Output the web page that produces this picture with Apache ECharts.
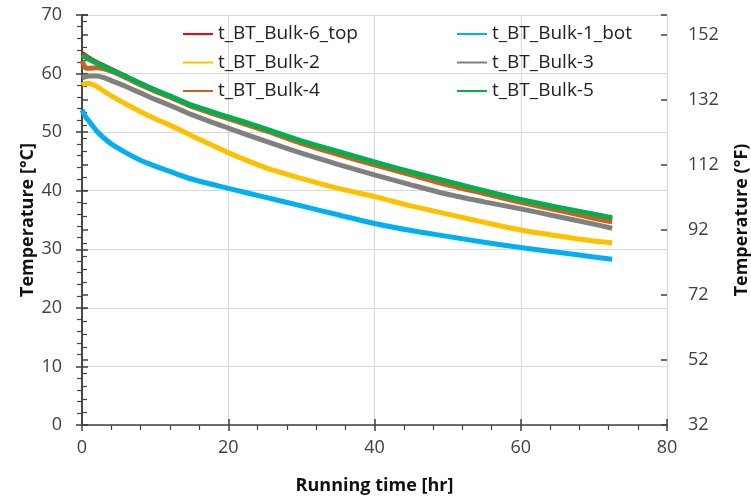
<!DOCTYPE html>
<html>
<head>
<meta charset="utf-8">
<script src="https://cdn.jsdelivr.net/npm/echarts@6/dist/echarts.min.js"></script>
<style>
  html, body { margin: 0; padding: 0; background: #fff; }
  #main { width: 751px; height: 501px; }
</style>
</head>
<body>
<div id="main"></div>
<script>
// running time [hr]
let hours = [0, 0.5, 1, 2, 3, 4, 6, 8, 10, 12, 15, 20, 25, 30, 35, 40, 45, 50, 55, 60, 65, 70, 72.5];

// temperatures [°C]
let bulk6top = [63.5, 63.0, 62.6, 61.9, 61.3, 60.7, 59.5, 58.3, 57.2, 56.1, 54.5, 52.5, 50.5, 48.4, 46.5, 44.8, 43.1, 41.5, 39.9, 38.4, 37.1, 35.9, 35.2];
let bulk1bot = [53.8, 52.6, 51.8, 50.2, 49.0, 48.0, 46.5, 45.2, 44.2, 43.3, 42.0, 40.4, 38.9, 37.4, 35.9, 34.4, 33.2, 32.2, 31.2, 30.3, 29.5, 28.7, 28.3];
let bulk2 = [58.0, 58.3, 58.3, 57.8, 57.0, 56.2, 54.8, 53.5, 52.3, 51.2, 49.4, 46.5, 44.0, 42.1, 40.4, 39.0, 37.4, 36.0, 34.6, 33.3, 32.3, 31.4, 31.1];
let bulk3 = [59.3, 59.5, 59.6, 59.6, 59.3, 58.8, 57.8, 56.7, 55.6, 54.6, 53.0, 50.7, 48.5, 46.4, 44.5, 42.7, 41.0, 39.4, 38.1, 36.9, 35.6, 34.3, 33.6];
let bulk4 = [62.2, 61.0, 60.9, 61.0, 60.8, 60.4, 59.3, 58.1, 57.0, 56.0, 54.4, 52.3, 50.3, 48.1, 46.2, 44.4, 42.7, 41.0, 39.5, 38.0, 36.7, 35.3, 34.7];
let bulk5 = [63.2, 62.8, 62.4, 61.8, 61.2, 60.6, 59.5, 58.3, 57.2, 56.2, 54.6, 52.6, 50.6, 48.5, 46.7, 44.9, 43.2, 41.6, 40.0, 38.5, 37.2, 36.0, 35.4];

let names = ['t_BT_Bulk-6_top', 't_BT_Bulk-1_bot', 't_BT_Bulk-2', 't_BT_Bulk-3', 't_BT_Bulk-4', 't_BT_Bulk-5'];
let values = [bulk6top, bulk1bot, bulk2, bulk3, bulk4, bulk5];
let colors = ['#FF0000', '#00B0F0', '#FFC000', '#808080', '#C8621E', '#00B050'];

let font = 'Open Sans';
let axisColor = '#404040';

let myChart = echarts.init(document.getElementById('main'));

let series = names.map(function (name, i) {
  return {
    name: name,
    type: 'line',
    xAxisIndex: 0,
    yAxisIndex: 0,
    showSymbol: false,
    smooth: 0.3,
    lineStyle: { width: 5, color: colors[i] },
    itemStyle: { color: colors[i] },
    data: hours.map(function (t, k) { return [t, values[i][k]]; })
  };
});

let legendBase = {
  orient: 'vertical',
  icon: 'rect',
  itemHeight: 2,
  itemWidth: 30,
  itemGap: 8.5,
  textStyle: { fontFamily: font, fontSize: 19, color: '#222', lineHeight: 20 }
};

let tickStyle = { color: axisColor, width: 1.5 };
let minorStyle = { color: axisColor, width: 1.2 };
let nameStyle = { fontFamily: font, fontSize: 18, fontWeight: 'bold', color: '#111' };
let labelStyle = { fontFamily: font, fontSize: 18, color: axisColor };

let option = {
  animation: false,
  color: colors,
  grid: { left: 82, right: 84, top: 15, bottom: 76, outerBoundsMode: 'none' },
  legend: [
    Object.assign({}, legendBase, { left: 178, top: 19, data: ['t_BT_Bulk-6_top', 't_BT_Bulk-2', 't_BT_Bulk-4'] }),
    Object.assign({}, legendBase, { left: 452, top: 19, data: ['t_BT_Bulk-1_bot', 't_BT_Bulk-3', 't_BT_Bulk-5'] })
  ],
  xAxis: [
    {
      type: 'value', min: 0, max: 80, interval: 20,
      name: 'Running time [hr]', nameLocation: 'middle', nameGap: 52,
      nameTextStyle: nameStyle,
      axisLine: { show: true, lineStyle: { color: axisColor, width: 1.5 } },
      axisTick: { show: true, length: 6, lineStyle: tickStyle },
      minorTick: { show: true, splitNumber: 5, length: 5, lineStyle: minorStyle },
      axisLabel: Object.assign({ margin: 14 }, labelStyle),
      splitLine: { show: true, lineStyle: { color: '#D9D9D9', width: 1.2 } }
    },
    {
      type: 'value', min: 0, max: 80, interval: 20, position: 'bottom',
      axisLine: { show: false },
      axisTick: { show: true, inside: true, length: 6, lineStyle: tickStyle },
      axisLabel: { show: false },
      splitLine: { show: false }
    }
  ],
  yAxis: [
    {
      type: 'value', min: 0, max: 70, interval: 10, position: 'left',
      name: 'Temperature [°C]', nameLocation: 'middle', nameGap: 45, nameMoveOverlap: false,
      nameTextStyle: nameStyle,
      axisLine: { show: true, lineStyle: { color: axisColor, width: 1.5 } },
      axisTick: { show: true, length: 6, lineStyle: tickStyle },
      minorTick: { show: true, splitNumber: 5, length: 5, lineStyle: minorStyle },
      axisLabel: Object.assign({ margin: 20 }, labelStyle),
      splitLine: { show: true, lineStyle: { color: '#D9D9D9', width: 1.2 } }
    },
    {
      type: 'value', min: 32, max: 158, interval: 20, position: 'right',
      name: 'Temperature (°F)', nameLocation: 'middle', nameGap: 66,
      nameTextStyle: nameStyle,
      axisLine: { show: true, lineStyle: { color: axisColor, width: 1.5 } },
      axisTick: { show: true, length: 6, lineStyle: tickStyle },
      minorTick: { show: true, splitNumber: 5, length: 5, lineStyle: minorStyle },
      axisLabel: Object.assign({ margin: 21, showMaxLabel: false }, labelStyle),
      splitLine: { show: false }
    },
    {
      type: 'value', min: 0, max: 70, interval: 10, position: 'left',
      axisLine: { show: false },
      axisTick: { show: true, inside: true, length: 6, lineStyle: tickStyle },
      axisLabel: { show: false },
      splitLine: { show: false }
    },
    {
      type: 'value', min: 32, max: 158, interval: 20, position: 'right',
      axisLine: { show: false },
      axisTick: { show: true, inside: true, length: 6, lineStyle: tickStyle },
      axisLabel: { show: false, showMaxLabel: false },
      splitLine: { show: false }
    }
  ],
  series: series
};

myChart.setOption(option);
</script>
</body>
</html>
